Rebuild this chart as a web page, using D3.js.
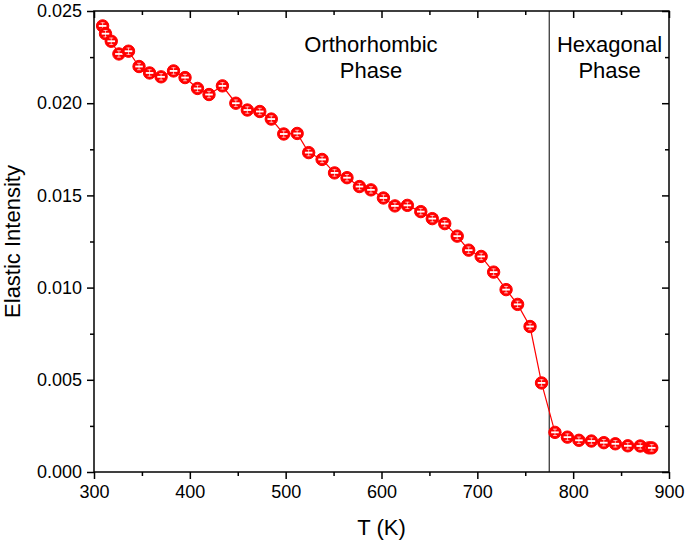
<!DOCTYPE html>
<html>
<head>
<meta charset="utf-8">
<script src="https://cdn.jsdelivr.net/npm/d3@7"></script>
<style>
  body { margin: 0; background: #fff; }
  svg { display: block; font-family: "Liberation Sans", Arial, sans-serif; }
</style>
</head>
<body>
<svg id="chart" width="685" height="547"></svg>
<script>
// Data
const temperature = [309, 312, 318, 326, 336, 347, 358, 370, 383, 395, 408, 420, 434, 448, 460,
  473, 485, 498, 512, 524, 538, 551, 564, 577, 589, 602, 614, 627, 641, 653, 666, 679, 691,
  704, 717, 730, 742, 755, 767, 781, 794, 806, 819, 832, 844, 857, 870, 879, 882];
const intensity = [0.02419, 0.02377, 0.02336, 0.02267, 0.02282, 0.02199, 0.02164, 0.02143, 0.02175,
  0.02139, 0.02080, 0.02047, 0.02094, 0.02000, 0.01963, 0.01955, 0.01914, 0.01833, 0.01836,
  0.01732, 0.01695, 0.01622, 0.01596, 0.01548, 0.01530, 0.01486, 0.01443, 0.01446, 0.01412,
  0.01374, 0.01347, 0.01279, 0.01203, 0.01169, 0.01084, 0.00989, 0.00909, 0.00789, 0.00483,
  0.00215, 0.00189, 0.00172, 0.00168, 0.00159, 0.00153, 0.00142, 0.00141, 0.00131, 0.00131];
const xTicks = [300, 400, 500, 600, 700, 800, 900];
const xMinorTicks = [350, 450, 550, 650, 750, 850];
const yTicks = [0, 0.005, 0.010, 0.015, 0.020, 0.025];
const yMinorTicks = [0.0025, 0.0075, 0.0125, 0.0175, 0.0225];
const transitionT = [775];
const phaseLabels = [
  { lines: ["Orthorhombic", "Phase"], t: 589 },
  { lines: ["Hexagonal", "Phase"], t: 838 }
];
const xTitle = "T (K)";
const yTitle = "Elastic Intensity";

const svg = d3.select("#chart");
const L = 94, R = 669, T = 11, B = 472;
const x = d3.scaleLinear().domain([300, 900]).range([L, R]);
const y = d3.scaleLinear().domain([0, 0.025]).range([B, T]);

// Frame
svg.append("rect").attr("x", L).attr("y", T).attr("width", R - L).attr("height", B - T)
  .attr("fill", "none").attr("stroke", "#000").attr("stroke-width", 1.5);

const fmtY = d3.format(".3f");
// Bottom axis
const gB = svg.append("g").attr("transform", `translate(0,${B})`)
  .call(d3.axisBottom(x).tickValues(xTicks).tickSize(7).tickPadding(6).tickFormat(d3.format("d")));
const gBm = svg.append("g").attr("transform", `translate(0,${B})`)
  .call(d3.axisBottom(x).tickValues(xMinorTicks).tickSize(4).tickFormat(""));
// Top axis (inward)
const gT = svg.append("g").attr("transform", `translate(0,${T})`)
  .call(d3.axisBottom(x).tickValues(xTicks).tickSize(7).tickFormat(""));
const gTm = svg.append("g").attr("transform", `translate(0,${T})`)
  .call(d3.axisBottom(x).tickValues(xMinorTicks).tickSize(4).tickFormat(""));
// Left axis
const gL = svg.append("g").attr("transform", `translate(${L},0)`)
  .call(d3.axisLeft(y).tickValues(yTicks).tickSize(7).tickPadding(5).tickFormat(fmtY));
const gLm = svg.append("g").attr("transform", `translate(${L},0)`)
  .call(d3.axisLeft(y).tickValues(yMinorTicks).tickSize(4).tickFormat(""));
// Right axis (inward)
const gR = svg.append("g").attr("transform", `translate(${R},0)`)
  .call(d3.axisLeft(y).tickValues(yTicks).tickSize(7).tickFormat(""));
const gRm = svg.append("g").attr("transform", `translate(${R},0)`)
  .call(d3.axisLeft(y).tickValues(yMinorTicks).tickSize(4).tickFormat(""));

[gB, gBm, gT, gTm, gL, gLm, gR, gRm].forEach(g => {
  g.select(".domain").remove();
  g.selectAll(".tick line").attr("stroke", "#000").attr("stroke-width", 1.5);
  g.selectAll(".tick text").attr("fill", "#000").style("font-size", "18px")
    .style("font-family", '"Liberation Sans", Arial, sans-serif');
});

// Transition line
svg.selectAll(".vline").data(transitionT).enter().append("line")
  .attr("x1", d => x(d)).attr("x2", d => x(d)).attr("y1", T).attr("y2", B)
  .attr("stroke", "#000").attr("stroke-width", 1);

// Data
const pts = temperature.map((t, i) => ({ t, v: intensity[i] }));
svg.append("path").datum(pts)
  .attr("d", d3.line().x(d => x(d.t)).y(d => y(d.v)))
  .attr("fill", "none").attr("stroke", "#ff0000").attr("stroke-width", 1.2);

const mk = svg.selectAll(".mk").data(pts).enter().append("g")
  .attr("transform", d => `translate(${x(d.t)},${y(d.v)})`);
mk.append("circle").attr("r", 6.2).attr("fill", "#ff0000").attr("stroke", "#ff0000").attr("stroke-width", 1);
mk.append("line").attr("x1", -3.8).attr("x2", 3.8).attr("y1", 0).attr("y2", 0)
  .attr("stroke", "#fff").attr("stroke-width", 1.8);
mk.append("line").attr("x1", 0).attr("x2", 0).attr("y1", -3.5).attr("y2", 3.5)
  .attr("stroke", "#fff").attr("stroke-width", 0.8).attr("opacity", 0.8);
mk.append("line").attr("x1", -2).attr("x2", 2).attr("y1", -3.2).attr("y2", -3.2)
  .attr("stroke", "#fff").attr("stroke-width", 0.8).attr("opacity", 0.8);
mk.append("line").attr("x1", -2).attr("x2", 2).attr("y1", 3.2).attr("y2", 3.2)
  .attr("stroke", "#fff").attr("stroke-width", 0.8).attr("opacity", 0.8);

// Phase labels
phaseLabels.forEach(p => {
  const tx = svg.append("text").attr("text-anchor", "middle").style("font-size", "22px").attr("fill", "#000");
  p.lines.forEach((ln, i) => {
    tx.append("tspan").attr("x", x(p.t)).attr("y", 52 + i * 26).text(ln);
  });
});

// Axis titles
svg.append("text").attr("x", (L + R) / 2 - 0).attr("y", 535).attr("text-anchor", "middle")
  .style("font-size", "22px").attr("fill", "#000").text(xTitle);
svg.append("text").attr("transform", `translate(20,${(T + B) / 2}) rotate(-90)`)
  .attr("text-anchor", "middle").style("font-size", "22px").attr("fill", "#000").text(yTitle);
</script>
</body>
</html>
